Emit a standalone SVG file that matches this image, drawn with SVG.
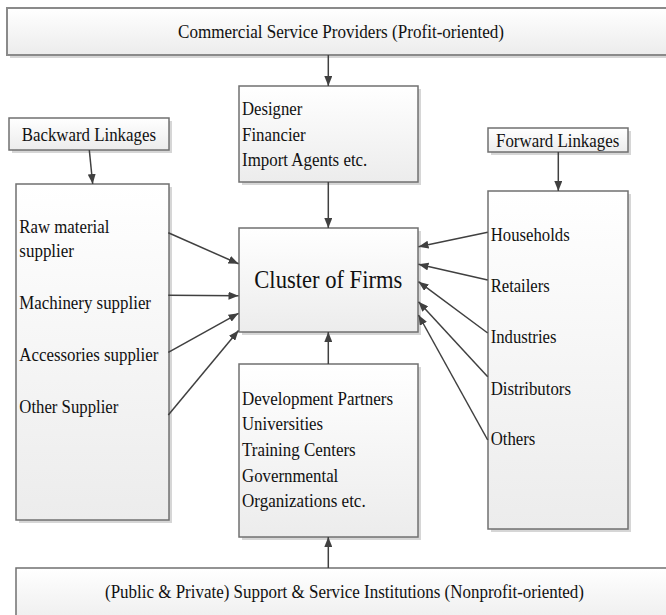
<svg xmlns="http://www.w3.org/2000/svg" width="666" height="615" viewBox="0 0 666 615">
<defs>
<linearGradient id="g" x1="0" y1="0" x2="0" y2="1">
<stop offset="0" stop-color="#ffffff"/>
<stop offset="1" stop-color="#ececec"/>
</linearGradient>
<marker id="ah" viewBox="0 0 10 8" refX="10" refY="4" markerWidth="10" markerHeight="8" markerUnits="userSpaceOnUse" orient="auto">
<path d="M0,0 L10,4 L0,8 Z" fill="#404040"/>
</marker>
</defs>
<style>
.box{fill:url(#g);stroke:#707070;stroke-width:1.5}
.sh{fill:#d6d6d6}
.t{font-family:"Liberation Serif","Times New Roman",serif;font-size:19.5px;fill:#111}
.big{font-size:26px}
.c line{stroke:#404040;stroke-width:1.5;marker-end:url(#ah)}
</style>
<g id="commercial">
<rect class="sh" x="10" y="11" width="670" height="47"/>
<rect class="box" x="7" y="8" width="670" height="47" style="stroke:#8a8a8a;stroke-width:2"/>
<text class="t" x="178" y="38" textLength="326" lengthAdjust="spacingAndGlyphs">Commercial Service Providers (Profit-oriented)</text>
</g>
<g id="designer">
<rect class="sh" x="242" y="89" width="179" height="96"/>
<rect class="box" x="239" y="86" width="179" height="96"/>
<text class="t" x="242" y="115" textLength="60.3" lengthAdjust="spacingAndGlyphs">Designer</text>
<text class="t" x="242" y="140.5" textLength="63.7" lengthAdjust="spacingAndGlyphs">Financier</text>
<text class="t" x="242" y="166" textLength="125.3" lengthAdjust="spacingAndGlyphs">Import Agents etc.</text>
</g>
<g id="backward">
<rect class="sh" x="12" y="121" width="160" height="32"/>
<rect class="box" x="9" y="118" width="160" height="32"/>
<text class="t" x="21.7" y="140.7" textLength="134.3" lengthAdjust="spacingAndGlyphs">Backward Linkages</text>
</g>
<g id="forward">
<rect class="sh" x="491" y="131" width="140" height="24"/>
<rect class="box" x="488" y="128" width="140" height="24"/>
<text class="t" x="496" y="146.7" textLength="123.3" lengthAdjust="spacingAndGlyphs">Forward Linkages</text>
</g>
<g id="suppliers">
<rect class="sh" x="19" y="187" width="153" height="336"/>
<rect class="box" x="16" y="184" width="153" height="336"/>
<text class="t" x="19.3" y="232.7" textLength="90" lengthAdjust="spacingAndGlyphs">Raw material</text>
<text class="t" x="19.3" y="256.7" textLength="54.7" lengthAdjust="spacingAndGlyphs">supplier</text>
<text class="t" x="19.3" y="309.3" textLength="131.7" lengthAdjust="spacingAndGlyphs">Machinery supplier</text>
<text class="t" x="19.3" y="361" textLength="139" lengthAdjust="spacingAndGlyphs">Accessories supplier</text>
<text class="t" x="19.3" y="413" textLength="99" lengthAdjust="spacingAndGlyphs">Other Supplier</text>
</g>
<g id="cluster">
<rect class="sh" x="242" y="231" width="179" height="104"/>
<rect class="box" x="239" y="228" width="179" height="104"/>
<text class="t big" x="254.3" y="288" textLength="148" lengthAdjust="spacingAndGlyphs">Cluster of Firms</text>
</g>
<g id="customers">
<rect class="sh" x="491" y="194" width="140" height="338"/>
<rect class="box" x="488" y="191" width="140" height="338"/>
<text class="t" x="490.7" y="240.7" textLength="79" lengthAdjust="spacingAndGlyphs">Households</text>
<text class="t" x="490.7" y="291.7" textLength="59" lengthAdjust="spacingAndGlyphs">Retailers</text>
<text class="t" x="490.7" y="342.7" textLength="65.7" lengthAdjust="spacingAndGlyphs">Industries</text>
<text class="t" x="490.7" y="395" textLength="80.3" lengthAdjust="spacingAndGlyphs">Distributors</text>
<text class="t" x="490.7" y="445" textLength="44.7" lengthAdjust="spacingAndGlyphs">Others</text>
</g>
<g id="support">
<rect class="sh" x="242" y="367" width="179" height="173"/>
<rect class="box" x="239" y="364" width="179" height="173"/>
<text class="t" x="242" y="405" textLength="151" lengthAdjust="spacingAndGlyphs">Development Partners</text>
<text class="t" x="242" y="430" textLength="81" lengthAdjust="spacingAndGlyphs">Universities</text>
<text class="t" x="242" y="456" textLength="113.7" lengthAdjust="spacingAndGlyphs">Training Centers</text>
<text class="t" x="242" y="481.7" textLength="96.3" lengthAdjust="spacingAndGlyphs">Governmental</text>
<text class="t" x="242" y="506.7" textLength="123.7" lengthAdjust="spacingAndGlyphs">Organizations etc.</text>
</g>
<g id="nonprofit">
<rect class="box" x="16" y="568" width="670" height="60"/>
<text class="t" x="105" y="598" textLength="479" lengthAdjust="spacingAndGlyphs">(Public &amp; Private) Support &amp; Service Institutions (Nonprofit-oriented)</text>
</g>
<g id="connectors" class="c">
<line x1="328.3" y1="55" x2="328.3" y2="86"/>
<line x1="328.3" y1="182" x2="328.3" y2="228"/>
<line x1="328.3" y1="364" x2="328.3" y2="332"/>
<line x1="328.3" y1="568" x2="328.3" y2="537"/>
<line x1="89.3" y1="150" x2="92.7" y2="184"/>
<line x1="558.3" y1="152" x2="558.3" y2="191"/>
<line x1="168.3" y1="232.7" x2="238.5" y2="263.8"/>
<line x1="168.3" y1="295.3" x2="238.5" y2="295.8"/>
<line x1="168.3" y1="352.3" x2="238.5" y2="313.3"/>
<line x1="168.3" y1="415" x2="238.5" y2="330.5"/>
<line x1="487.7" y1="232.3" x2="418.5" y2="246.7"/>
<line x1="487.7" y1="280" x2="418.5" y2="264.3"/>
<line x1="487.7" y1="333" x2="418.5" y2="281.7"/>
<line x1="487.7" y1="376.7" x2="418.5" y2="301.7"/>
<line x1="487.7" y1="440" x2="418.5" y2="315"/>
</g>
</svg>
